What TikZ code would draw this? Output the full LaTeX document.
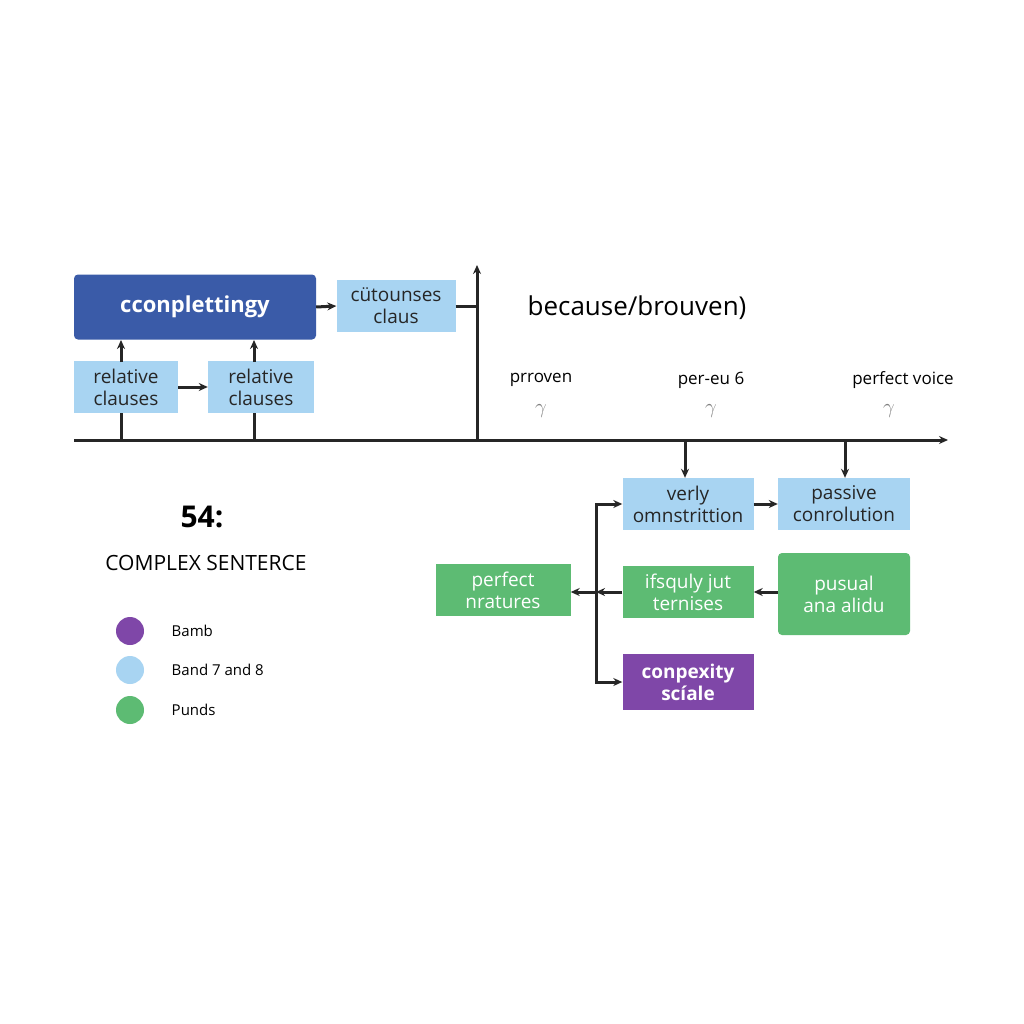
\documentclass[tikz,border=0pt]{standalone}
\usepackage{fontspec}
\setmainfont{Open Sans}
\usetikzlibrary{positioning,arrows.meta}
\definecolor{darkblue}{HTML}{3A5BA8}
\definecolor{lightblue}{HTML}{A8D4F2}
\definecolor{leafgreen}{HTML}{5DBB73}
\definecolor{plum}{HTML}{7F47A8}
\tikzset{
  box/.style={draw=none,minimum height=52pt,align=center,font=\fontsize{19}{22}\selectfont,inner sep=2pt},
  bluebox/.style={box,fill=lightblue,text=black!85},
  greenbox/.style={box,fill=leafgreen,text=white},
  link/.style={-{Stealth[length=9pt,width=8pt]},line width=3pt,black!85},
  line/.style={line width=3pt,black!85},
  dot/.style={circle,minimum size=28pt,inner sep=0pt}
}
\begin{document}
\begin{tikzpicture}[x=1pt,y=-1pt]
		\useasboundingbox[fill=white] (0,0) rectangle (1024,1024);
		% top row
		\node[box,fill=darkblue,text=white,rounded corners=4pt,minimum width=242pt,minimum height=65pt,font=\fontsize{22}{24}\selectfont\bfseries] (compl) at (195,307) {cconplettingy};
		\node[bluebox,minimum width=119pt] (cuts) at (396,306) {cütounses\\claus};
		\node[bluebox,minimum width=104pt] (rel1) at (126,387) {relative\\clauses};
		\node[bluebox,minimum width=106pt] (rel2) at (261,387) {relative\\clauses};
		\node[font=\fontsize{26}{30}\selectfont] (because) at (637,308) {because/brouven)};

		% axes
		\coordinate (o) at (74,440);
		\coordinate (xend) at (948,440);
		\coordinate (ybase) at (477,440);
		\coordinate (ytop) at (477,265);
		\draw[link] (o) -- (xend);
		\draw[link] (ybase) -- (ytop);
		\draw[line] (cuts.east) -- (cuts.east -| ybase);

		%labels on the axis
		\foreach \x/\name/\txt in {541/pr/prroven,711/pe/per-eu 6,903/pv/perfect voice}
			\node[font=\fontsize{17}{20}\selectfont] (\name) at (\x,380) {\txt};
		\foreach \x in {541,711,889}
			\node[gray,font=\fontsize{22}{22}\selectfont] at (\x,411) {$\gamma$};

		\draw[link] (compl.east) -- (cuts.west);
		\draw[link] (rel1.east) -- (rel2.west);
		\foreach \r/\x in {rel1/121,rel2/254}{
			\draw[line] (\x,440) -- (\x,413);
			\draw[link] (\x,362) -- (\x,340);
		}

		% lower right part
		\node[bluebox,minimum width=131pt] (verly) at (688,504) {verly\\omnstrittion};
		\node[bluebox,minimum width=132pt] (passive) at (844,504) {passive\\conrolution};
		\node[greenbox,minimum width=135pt] (perf) at (503,590) {perfect\\nratures};
		\node[greenbox,minimum width=131pt] (ifsq) at (688,592) {ifsquly jut\\ternises};
		\node[greenbox,rounded corners=4pt,minimum width=132pt,minimum height=82pt] (pusual) at (844,594) {pusual\\ana alidu};
		\node[box,fill=plum,text=white,minimum width=131pt,minimum height=56pt,font=\fontsize{19}{22}\selectfont\bfseries] (conp) at (688,682) {conpexity\\scíale};

		\coordinate (split) at (596,592);
		\draw[link] (685,440) -- (verly.north -| 685,0);
		\draw[link] (845,440) -- (passive.north -| 845,0);
		\draw[link] (verly.east) -- (passive.west);
		\draw[link] (pusual.west |- ifsq.east) -- (ifsq.east);
		\draw[link] (ifsq.west) -- (split);
		\draw[link] (split) -- (perf.east |- split);
		\draw[link] (split |- conp.west) |- (verly.west);
		\draw[link] (split) |- (conp.west);

		% title and legend
		\node[font=\fontsize{30}{34}\selectfont\bfseries] (num) at (202,517) {54:};
		\node[font=\fontsize{21}{24}\selectfont] (title) at (206,563) {COMPLEX SENTERCE};
		\foreach \y/\c/\txt/\name in {631/plum/Bamb/la,670/lightblue/Band 7 and 8/lb,710/leafgreen/Punds/lc}{
			\node[dot,fill=\c] (\name) at (130,\y) {};
			\node[right=24pt of \name,font=\fontsize{15}{18}\selectfont] {\txt};
		}
\end{tikzpicture}
\end{document}
